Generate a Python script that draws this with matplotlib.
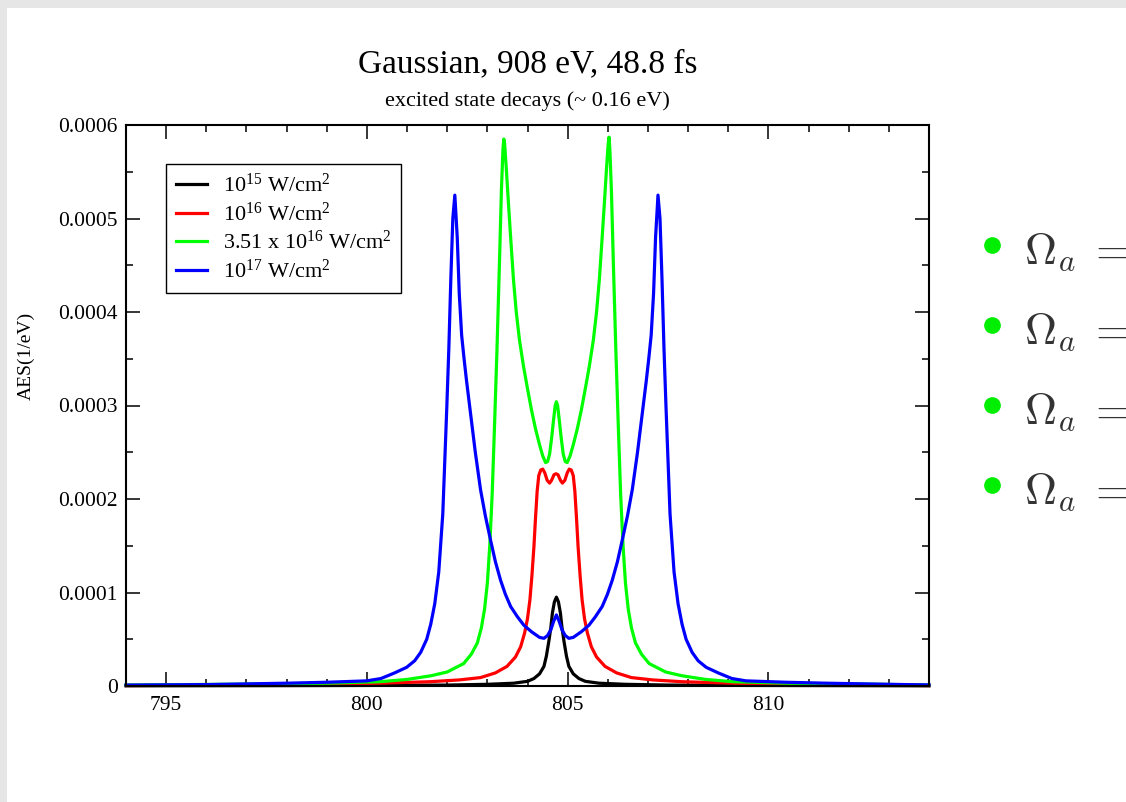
import numpy as np
import matplotlib
matplotlib.use("Agg")
import matplotlib.pyplot as plt
from matplotlib.patches import Rectangle
from matplotlib.lines import Line2D
from matplotlib.ticker import MultipleLocator, FixedFormatter, FixedLocator

plt.rcParams['font.family'] = ['Liberation Serif', 'DejaVu Serif']
plt.rcParams['mathtext.fontset'] = 'custom'
plt.rcParams['mathtext.rm'] = 'Liberation Serif'
plt.rcParams['mathtext.it'] = 'Liberation Serif:italic'

# --------------------------------
# DATA (energy in eV, AES in units of 1e-4 1/eV)
# --------------------------------
labels = [r"10$^{15}$ W/cm$^{2}$", r"10$^{16}$ W/cm$^{2}$",
          r"3.51 x 10$^{16}$ W/cm$^{2}$", r"10$^{17}$ W/cm$^{2}$"]
colors = ["black", "red", "#00ff00", "blue"]

x_1e15 = [794, 798, 800, 802, 803, 803.66, 804.0, 804.16, 804.3, 804.41, 804.47,
          804.53, 804.58, 804.62, 804.67, 804.72,
          804.77, 804.82, 804.86, 804.91, 804.97, 805.03, 805.14, 805.28, 805.44,
          805.78, 806.44, 807.5, 809.5, 814]
y_1e15 = [0.002, 0.004, 0.006, 0.01, 0.018, 0.03, 0.05, 0.08, 0.13, 0.21, 0.32,
          0.475, 0.62, 0.78, 0.90, 0.95,
          0.90, 0.78, 0.62, 0.475, 0.32, 0.21, 0.13, 0.08, 0.05,
          0.03, 0.018, 0.01, 0.006, 0.002]

x_1e16 = [794, 797, 799, 800.33, 801.58, 802.3, 802.83, 803.2, 803.49, 803.7,
          803.83, 803.93, 804.0, 804.06, 804.11, 804.16, 804.2, 804.24, 804.28, 804.33,
          804.38, 804.43, 804.49, 804.55, 804.6, 804.66, 804.71,
          804.76, 804.82, 804.87, 804.93, 804.99, 805.04, 805.09, 805.14, 805.18, 805.22,
          805.26, 805.31, 805.36, 805.42, 805.49, 805.59, 805.72, 805.93, 806.22, 806.59,
          807.12, 807.84, 809.09, 810.42, 812.42, 814]
y_1e16 = [0.005, 0.01, 0.02, 0.03, 0.046, 0.065, 0.09, 0.14, 0.21, 0.31,
          0.42, 0.57, 0.72, 0.92, 1.18, 1.49, 1.8, 2.08, 2.25, 2.31,
          2.32, 2.28, 2.2, 2.17, 2.2, 2.26, 2.27,
          2.26, 2.2, 2.17, 2.2, 2.28, 2.32, 2.31, 2.25, 2.08, 1.8,
          1.49, 1.18, 0.92, 0.72, 0.57, 0.42, 0.31, 0.21, 0.14, 0.09,
          0.065, 0.046, 0.03, 0.02, 0.01, 0.005]

x_351e16 = [794, 797, 799, 800.33, 801.0, 801.6, 802.0, 802.41, 802.6, 802.75,
            802.85, 802.93, 803.0, 803.06, 803.12, 803.18, 803.24, 803.3, 803.35, 803.39,
            803.41, 803.43, 803.47, 803.52, 803.58, 803.65, 803.72, 803.8, 803.9, 804.0,
            804.1, 804.2, 804.3, 804.38, 804.45, 804.5, 804.55, 804.6, 804.65, 804.69,
            804.72,
            804.75, 804.79, 804.84, 804.89, 804.94, 804.99, 805.06, 805.14, 805.24, 805.34,
            805.44, 805.54, 805.64, 805.72, 805.79, 805.86, 805.92, 805.97, 806.01, 806.03,
            806.05, 806.09, 806.14, 806.2, 806.26, 806.32, 806.38, 806.44, 806.51, 806.59,
            806.69, 806.84, 807.03, 807.44, 807.84, 808.44, 809.11, 810.44, 812.44, 814]
y_351e16 = [0.01, 0.02, 0.03, 0.046, 0.07, 0.11, 0.15, 0.24, 0.34, 0.46,
            0.62, 0.82, 1.1, 1.5, 2.05, 2.8, 3.6, 4.5, 5.3, 5.75,
            5.85, 5.8, 5.55, 5.2, 4.8, 4.35, 4.0, 3.7, 3.42, 3.18,
            2.95, 2.75, 2.58, 2.46, 2.39, 2.4, 2.48, 2.65, 2.85, 3.0,
            3.04,
            3.0, 2.85, 2.65, 2.48, 2.4, 2.39, 2.46, 2.58, 2.75, 2.95,
            3.18, 3.42, 3.7, 4.0, 4.35, 4.8, 5.2, 5.55, 5.8, 5.87,
            5.75, 5.3, 4.5, 3.6, 2.8, 2.05, 1.5, 1.1, 0.82, 0.62,
            0.46, 0.34, 0.24, 0.15, 0.11, 0.07, 0.046, 0.03, 0.02, 0.01]

x_1e17 = [794, 796, 798, 799, 800, 800.35, 800.69, 800.99, 801.19, 801.34,
          801.49, 801.59, 801.69, 801.79, 801.89, 801.99, 802.04, 802.09, 802.14, 802.19,
          802.25, 802.3, 802.36, 802.42, 802.48, 802.58, 802.7, 802.83, 802.95, 803.08,
          803.2, 803.33, 803.45, 803.58, 803.75, 803.91, 804.1, 804.3, 804.41, 804.5,
          804.58, 804.65, 804.72,
          804.79, 804.86, 804.94, 805.03, 805.14, 805.34, 805.53, 805.69, 805.86, 805.99,
          806.11, 806.24, 806.36, 806.49, 806.61, 806.74, 806.86, 806.96, 807.02, 807.08,
          807.14, 807.19, 807.25, 807.3, 807.35, 807.4, 807.45, 807.55, 807.65, 807.75,
          807.85, 807.95, 808.1, 808.25, 808.45, 808.75, 809.09, 809.44, 810.44, 811.44,
          813.44, 814]
y_1e17 = [0.01, 0.015, 0.03, 0.04, 0.055, 0.08, 0.14, 0.20, 0.27, 0.36,
          0.50, 0.66, 0.88, 1.22, 1.84, 2.98, 3.6, 4.35, 5.0, 5.25,
          4.8, 4.2, 3.75, 3.5, 3.27, 2.92, 2.5, 2.1, 1.82, 1.56,
          1.33, 1.13, 0.98, 0.85, 0.74, 0.65, 0.58, 0.52, 0.51, 0.54,
          0.6, 0.69, 0.76,
          0.69, 0.6, 0.54, 0.51, 0.52, 0.58, 0.65, 0.74, 0.85, 0.98,
          1.13, 1.33, 1.56, 1.82, 2.1, 2.5, 2.92, 3.27, 3.5, 3.75,
          4.2, 4.8, 5.25, 5.0, 4.35, 3.6, 2.98, 1.84, 1.22, 0.88,
          0.66, 0.50, 0.36, 0.27, 0.20, 0.14, 0.08, 0.055, 0.04, 0.03,
          0.015, 0.012]

curves = [(x_1e15, y_1e15), (x_1e16, y_1e16), (x_351e16, y_351e16), (x_1e17, y_1e17)]

ytick_vals = [0, 0.0001, 0.0002, 0.0003, 0.0004, 0.0005, 0.0006]
ytick_labels = ["0", "0.0001", "0.0002", "0.0003", "0.0004", "0.0005", "0.0006"]
xtick_vals = [795, 800, 805, 810]

# --------------------------------
# FIGURE
# --------------------------------
fig = plt.figure(figsize=(11.26, 8.02), dpi=100)
fig.patch.set_facecolor("#e6e6e6")
fig.add_artist(Rectangle((7 / 1126, 0), 1, 1 - 8 / 802, transform=fig.transFigure,
                         facecolor="white", edgecolor="none", zorder=-5))

ax = fig.add_axes([126 / 1126, 1 - 686 / 802, 803 / 1126, 561 / 802])
for (xs, ys), c, lab in zip(curves, colors, labels):
    ax.plot(xs, np.array(ys) * 1e-4, color=c, linewidth=2.3, label=lab, clip_on=False)

ax.set_xlim(794, 814)
ax.set_ylim(0, 0.0006)
ax.xaxis.set_major_locator(FixedLocator(xtick_vals))
ax.xaxis.set_minor_locator(MultipleLocator(1))
ax.yaxis.set_major_locator(FixedLocator(ytick_vals))
ax.yaxis.set_major_formatter(FixedFormatter(ytick_labels))
ax.yaxis.set_minor_locator(MultipleLocator(0.00005))
ax.tick_params(which="both", direction="in", top=True, right=True, labelsize=15.5, width=1.1)
ax.tick_params(which="major", length=10)
ax.tick_params(which="minor", length=5)
ax.tick_params(axis="x", pad=7)
ax.tick_params(axis="y", pad=6)
for s in ax.spines.values():
    s.set_linewidth(1.5)

ax.set_ylabel("AES(1/eV)", fontsize=14)
ax.yaxis.set_label_coords(-0.113, 0.588)

leg = ax.legend(loc="upper left", bbox_to_anchor=(0.0498, 0.9305), fontsize=16,
                frameon=True, fancybox=False, edgecolor="black", framealpha=1,
                handlelength=1.4, handletextpad=0.7, borderpad=0.45, labelspacing=0.24,
                borderaxespad=0)
leg.get_frame().set_linewidth(1.0)

fig.text(527.5 / 1126, 1 - 72 / 802, "Gaussian, 908 eV, 48.8 fs", ha="center",
         va="baseline", fontsize=24)
fig.text(527.5 / 1126, 1 - 106 / 802, "excited state decays (~ 0.16 eV)", ha="center",
         va="baseline", fontsize=16)

# bullets on the right
bullet_y = [245, 325, 405, 485]
for by in bullet_y:
    fig.add_artist(Line2D([992 / 1126], [1 - by / 802], transform=fig.transFigure,
                          marker="o", markersize=11, color="#00ee00", linestyle="none"))
    fig.text(1024 / 1126, 1 - (by + 18) / 802, r"$\Omega_a\;=$", color="#333333",
             fontsize=32, ha="left", va="baseline", math_fontfamily="cm")

fig.savefig("out.png", dpi=100, facecolor=fig.get_facecolor())
